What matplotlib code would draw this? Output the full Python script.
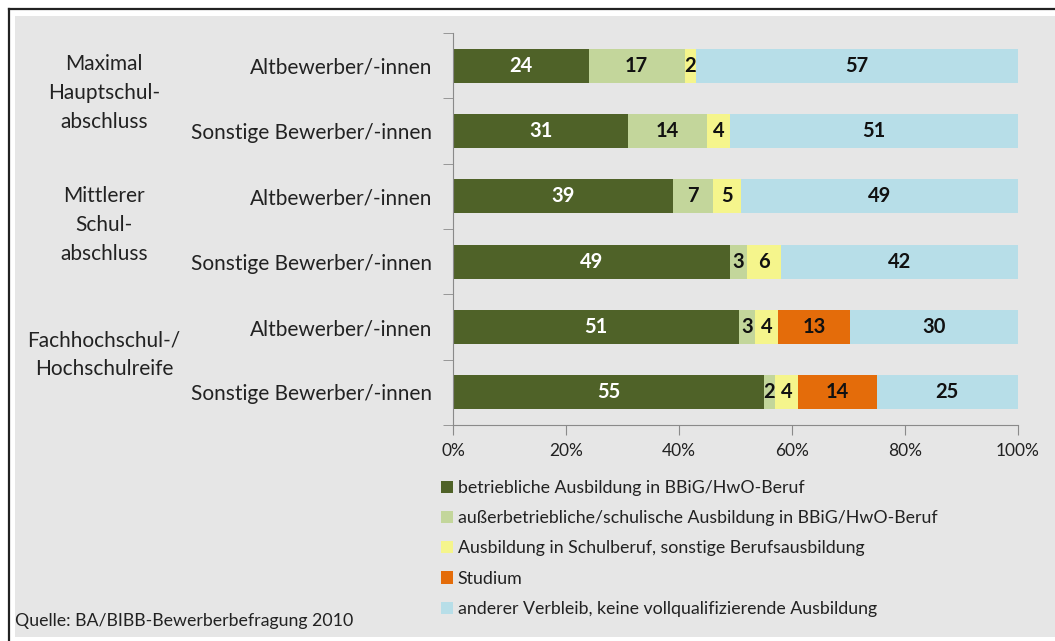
import matplotlib.pyplot as plt
from matplotlib.patches import Rectangle, Patch
import numpy as np

plt.rcParams['font.family'] = ['Lato', 'DejaVu Sans']

# data (shares in %)
rows = ['Altbewerber/-innen', 'Sonstige Bewerber/-innen',
        'Altbewerber/-innen', 'Sonstige Bewerber/-innen',
        'Altbewerber/-innen', 'Sonstige Bewerber/-innen']
groups = ['Maximal\nHauptschul-\nabschluss', 'Mittlerer\nSchul-\nabschluss',
          'Fachhochschul-/\nHochschulreife']
betrieblich = [24, 31, 39, 49, 50.6, 55]
ausserbetrieblich = [17, 14, 7, 3, 2.9, 2]
schulberuf = [2, 4, 5, 6, 4.0, 4]
studium = [0, 0, 0, 0, 12.8, 14]
anderer = [57, 51, 49, 42, 29.7, 25]

series = [betrieblich, ausserbetrieblich, schulberuf, studium, anderer]
names = ['betriebliche Ausbildung in BBiG/HwO-Beruf',
         'außerbetriebliche/schulische Ausbildung in BBiG/HwO-Beruf',
         'Ausbildung in Schulberuf, sonstige Berufsausbildung',
         'Studium',
         'anderer Verbleib, keine vollqualifizierende Ausbildung']
colors = ['#4f6228', '#c3d69b', '#f5f58c', '#e46c0a', '#b7dee8']
txt_colors = ['white', '#111111', '#111111', '#111111', '#111111']

W, H = 1055, 641
fig = plt.figure(figsize=(W / 100, H / 100), dpi=100)
fig.patch.set_facecolor('white')

# frame like the original picture
fig.patches.append(Rectangle((15 / W, 1 - 637 / H), 1 - 15 / W, (637 - 16) / H,
                             transform=fig.transFigure, facecolor='#e6e6e6',
                             edgecolor='none', zorder=-5))
fig.add_artist(plt.Line2D([9 / W, 9 / W], [0, 1 - 9 / H], color='#222222', lw=1.6, zorder=-4))
fig.add_artist(plt.Line2D([9 / W, 1], [1 - 9 / H, 1 - 9 / H], color='#222222', lw=1.6, zorder=-4))

ax = fig.add_axes([453 / W, 1 - 425 / H, 565 / W, 392 / H])
ax.set_zorder(2)
ax.set_facecolor('none')

y = np.arange(len(rows))
left = np.zeros(len(rows))
for vals, c, tc, name in zip(series, colors, txt_colors, names):
    vals = np.array(vals) / 100
    ax.barh(y, vals, left=left, height=0.52, color=c, label=name)
    for yi, v, l in zip(y, vals, left):
        if v > 0:
            ax.text(l + v / 2, yi, f'{round(v * 100)}', ha='center', va='center',
                    color=tc, fontsize=14.5, fontweight='bold')
    left += vals

ax.set_xlim(0, 1)
ax.set_ylim(5.5, -0.5)
ax.set_xticks(np.arange(0, 1.01, 0.2))
ax.set_xticklabels([f'{int(t * 100)}%' for t in np.arange(0, 1.01, 0.2)],
                   fontsize=12.5, color='#222222')
ax.set_yticks(y)
ax.set_yticklabels(rows, fontsize=15, color='#222222')
ax.set_yticks(np.arange(-0.5, 6, 1), minor=True)
ax.tick_params(axis='y', which='major', length=0, pad=15)
ax.tick_params(axis='y', which='minor', length=7, color='#8a8a8a', direction='out')
ax.tick_params(axis='x', length=7, color='#8a8a8a', direction='out', pad=6)
for s in ['top', 'right']:
    ax.spines[s].set_visible(False)
for s in ['left', 'bottom']:
    ax.spines[s].set_color('#8a8a8a')

# group labels
for g, yc in zip(groups, [93, 225, 355]):
    fig.text(104 / W, 1 - yc / H, g, ha='center', va='center', fontsize=15,
             color='#222222', linespacing=1.55)

handles = [Patch(facecolor=c, edgecolor='none') for c in colors]
fig.legend(handles, names, loc='upper left', bbox_to_anchor=(441 / W, 1 - 480 / H),
           frameon=False, fontsize=12.8, handlelength=0.68, handleheight=0.68,
           handletextpad=0.25, labelspacing=0.8, borderaxespad=0, borderpad=0,
           labelcolor='#222222')

fig.text(15 / W, 1 - 621 / H, 'Quelle: BA/BIBB-Bewerberbefragung 2010', ha='left',
         va='center', fontsize=12.8, color='#222222')

fig.savefig('out.png', dpi=100)
